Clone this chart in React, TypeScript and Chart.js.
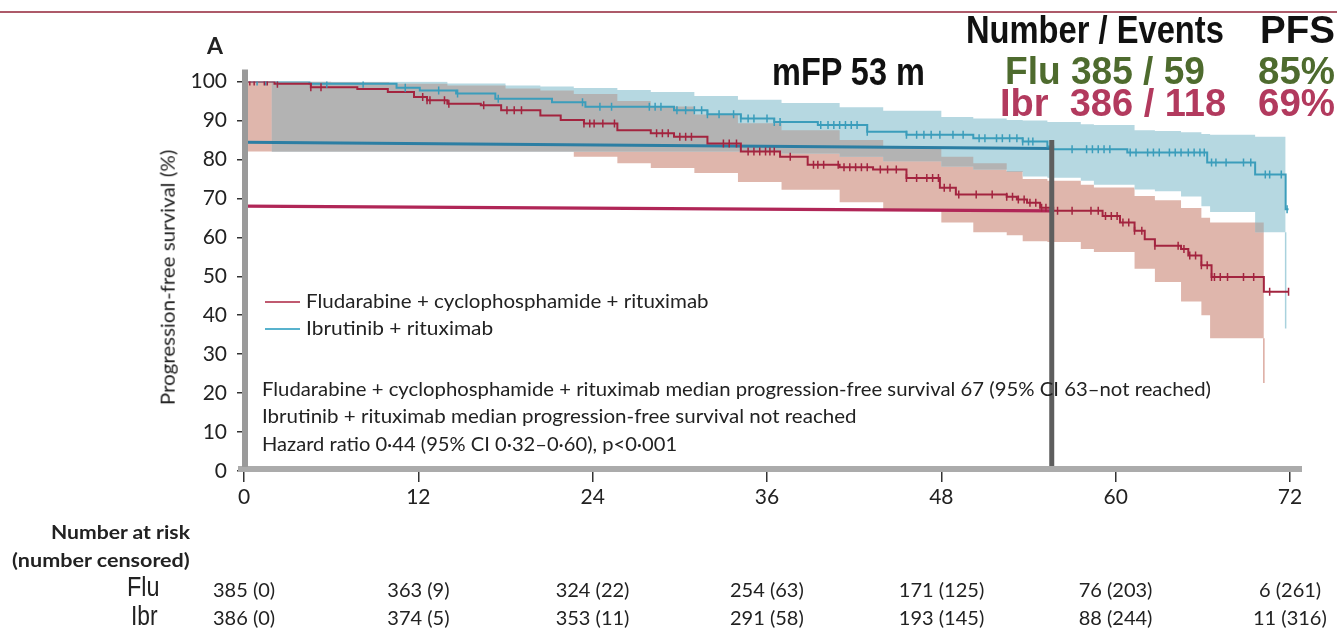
import React, { useEffect, useLayoutEffect, useRef, useState } from 'react';
import { Chart, registerables } from 'chart.js';

Chart.register(...registerables);

// ---------------- data ----------------
const xTickMonths = [0, 12, 24, 36, 48, 60, 72];
const yTickValues = [0, 10, 20, 30, 40, 50, 60, 70, 80, 90, 100];

// Kaplan-Meier step curves (value holds from the month onwards)
const fcrKmMonths = [0, 2.1, 4.6, 7.8, 9.9, 11.7, 12.6, 14.0, 16.3, 17.7, 20.4, 21.8, 23.4, 25.7, 28.0, 29.6, 31.9, 34.2, 36.9, 38.8, 41.0, 43.3, 45.6, 47.9, 49.0, 52.5, 53.2, 53.9, 54.8, 55.7, 59.1, 60.3, 61.3, 62.0, 62.7, 64.5, 65.0, 65.9, 66.6, 70.2, 71.9];
const fcrKmPfs = [100, 99.4, 98.5, 98.1, 97.3, 96.0, 95.2, 94.3, 93.9, 92.6, 91.3, 90.1, 89.2, 87.5, 86.7, 85.8, 84.1, 82.0, 80.7, 78.6, 78.0, 77.4, 75.2, 72.7, 71.0, 70.4, 69.7, 68.9, 67.6, 66.8, 65.5, 63.8, 61.7, 59.5, 57.8, 57.0, 55.3, 52.8, 49.8, 46.0, 46.0];

const ibrKmMonths = [0, 4.5, 10.5, 12.1, 14.6, 17.3, 21.2, 23.5, 29.6, 31.9, 34.2, 36.5, 39.5, 42.9, 45.6, 50.2, 53.6, 55.3, 55.7, 60.8, 66.3, 69.6, 71.7, 71.9];
const ibrKmPfs = [100, 99.4, 98.4, 97.7, 96.9, 95.6, 94.7, 93.5, 92.6, 91.6, 90.5, 89.6, 88.8, 87.1, 86.3, 85.4, 84.6, 83.3, 82.6, 81.8, 79.2, 76.1, 67.2, 67.2];

// censor marks (months)
const fcrCensorMonths = [0.1, 0.4, 0.7, 1.4, 1.6, 2.3, 4.6, 5.3, 12.3, 12.6, 12.8, 13.8, 14.1, 16.5, 18.1, 18.6, 19.1, 23.4, 23.8, 24.1, 24.7, 25.5, 28.4, 28.8, 29.2, 30.0, 30.4, 30.8, 33.0, 33.4, 33.9, 34.7, 35.1, 35.5, 35.9, 36.2, 36.5, 37.6, 39.2, 39.5, 39.9, 40.9, 41.3, 41.7, 42.1, 42.5, 42.9, 43.8, 44.3, 44.9, 45.6, 46.3, 47.0, 47.4, 47.8, 48.2, 48.6, 49.2, 50.4, 51.5, 52.5, 52.9, 53.3, 53.7, 54.1, 54.5, 54.9, 55.2, 56.0, 57.0, 58.3, 58.8, 59.3, 59.7, 60.1, 60.5, 60.9, 61.3, 61.8, 62.7, 64.3, 64.7, 65.1, 65.5, 65.9, 66.3, 66.6, 66.8, 67.2, 67.7, 68.8, 69.5, 70.6, 71.9];
const ibrCensorMonths = [0.9, 1.5, 2.3, 5.7, 8.2, 11.1, 13.4, 14.7, 17.5, 23.3, 24.5, 25.3, 27.9, 28.3, 28.7, 29.8, 30.4, 31.0, 31.5, 31.9, 32.7, 33.7, 34.2, 34.7, 35.1, 36.0, 36.5, 36.9, 39.7, 40.2, 40.6, 41.0, 41.4, 41.8, 42.2, 42.9, 45.6, 46.3, 46.8, 47.3, 47.9, 48.8, 49.5, 50.6, 51.0, 51.8, 52.2, 52.7, 53.2, 53.6, 54.0, 54.3, 57.0, 58.0, 58.4, 58.8, 59.2, 59.6, 61.0, 61.4, 62.2, 62.6, 63.0, 63.7, 64.1, 64.5, 65.0, 65.4, 65.8, 66.1, 66.6, 66.9, 67.6, 68.8, 69.3, 70.3, 70.6, 71.4, 71.8];

// 95% CI bands on a common month grid
const bandMonths = [0, 1.9, 6, 10, 14, 18, 20.4, 22.7, 25.7, 28, 31, 34, 37, 41, 44, 48, 50.2, 52.5, 53.6, 55.3, 57.6, 58.5, 61.3, 62.7, 64.5, 65.9, 66.5, 69.6, 70.2, 71.7];
const fcrCiUpper = [100, 100, 99.8, 99.4, 99.0, 98.2, 97.7, 96.8, 95.0, 93.6, 91.5, 89.3, 87.5, 85.0, 83.0, 80.7, 79.0, 77.0, 75.0, 74.5, 73.5, 72.8, 70.6, 69.5, 67.5, 65.0, 63.8, 63.8, 63.8, null];
const fcrCiLower = [82, 82, 82, 82, 82, 82, 82, 80.7, 79.0, 77.8, 76.5, 74.2, 72.2, 69.0, 66.8, 63.8, 61.3, 60.5, 59.0, 58.8, 57.0, 56.2, 51.9, 48.5, 43.5, 40.0, 34.1, 34.1, 34.1, null];
const ibrCiUpper = [null, 100, 100, 100, 99.5, 99.0, 98.7, 98.3, 97.8, 97.3, 96.3, 95.3, 94.5, 93.4, 92.5, 90.9, 90.5, 90.1, 90.0, 89.6, 89.0, 88.8, 87.5, 87.3, 87.0, 86.5, 86.3, 85.8, 85.8, 85.8];
const ibrCiLower = [null, 82, 82, 82, 82, 82, 82, 82, 82, 82, 82, 82, 81.5, 80.7, 79.5, 78.2, 77.4, 76.8, 75.6, 75.3, 74.5, 73.5, 72.3, 71.8, 70.5, 68.0, 66.5, 61.3, 61.3, 61.3];

// thin CI tails at the end of follow-up
const fcrCiTailMonth = 70.2;
const fcrCiTail = [34.1, 22.6];
const ibrCiTailMonth = 71.7;
const ibrCiTail = [61.3, 36.6];

// reference lines and marker
const refMonths = [0, 55.6];
const fluRefPfs = [84.4, 82.8];
const ibrRefPfs = [68.0, 66.8];
const mfpMonth = 55.6;
const mfpSpan = [0.8, 85];

// numbers at risk
const riskMonths = [0, 12, 24, 36, 48, 60, 72];
const fluAtRisk = ['385 (0)', '363 (9)', '324 (22)', '254 (63)', '171 (125)', '76 (203)', '6 (261)'];
const ibrAtRisk = ['386 (0)', '374 (5)', '353 (11)', '291 (58)', '193 (145)', '88 (244)', '11 (316)'];

// ---------------- styles ----------------
const RED = '#a3243f';
const BLUE = '#3b9dbb';
const SALMON = '#dfb6ac';
const LIGHTBLUE = '#b6d8e1';
const OVERLAP = '#b3b3b3';
const LATO = 'Lato, "Open Sans", sans-serif';
const NARROW = '"Liberation Sans Narrow", "Liberation Sans", Arial, sans-serif';

function stepAt(ms: number[], vs: number[], m: number) {
  let v = vs[0];
  for (let i = 0; i < ms.length; i++) {
    if (ms[i] <= m) v = vs[i];
    else break;
  }
  return v;
}
const pts = (ms: number[], vs: (number | null)[]) =>
  ms.map((x, i) => ({ x, y: vs[i] })).filter((p) => p.y !== null) as { x: number; y: number }[];

const overlapBand = bandMonths
  .map((m, i) => {
    const a = fcrCiUpper[i], b = fcrCiLower[i], c = ibrCiUpper[i], d = ibrCiLower[i];
    if (a == null || b == null || c == null || d == null) return null;
    const lo = Math.max(b, d);
    const hi = Math.max(lo, Math.min(a, c));
    return { x: m, lo, hi };
  })
  .filter(Boolean) as { x: number; lo: number; hi: number }[];

type LabelProps = {
  text: string; x: number; base: number; size: number; family: string;
  weight?: number; color?: string; width?: number; anchor?: 'left' | 'right' | 'center';
};

function Label({ text, x, base, size, family, weight = 400, color = '#222', width, anchor = 'left' }: LabelProps) {
  const ref = useRef<HTMLSpanElement>(null);
  useLayoutEffect(() => {
    const el = ref.current;
    if (!el) return;
    const apply = () => {
      const w = el.offsetWidth;
      const k = width && w ? width / w : 1;
      const fw = w * k;
      const left = anchor === 'left' ? x : anchor === 'right' ? x - fw : x - fw / 2;
      el.style.left = left + 'px';
      el.style.transform = `scaleX(${k})`;
    };
    apply();
    (document as any).fonts?.ready?.then(apply);
  }, [text, x, base, size, width, anchor]);
  const off = family.startsWith('Lato') ? 0.887 : 0.847;
  return (
    <span
      ref={ref}
      style={{
        position: 'absolute', left: x, top: base - off * size, whiteSpace: 'pre',
        font: `${weight} ${size}px ${family}`, lineHeight: 1, color, transformOrigin: '0 0',
      }}
    >
      {text}
    </span>
  );
}

function VLabel({ text, cx, cy, size, length }: { text: string; cx: number; cy: number; size: number; length: number }) {
  const ref = useRef<HTMLSpanElement>(null);
  useLayoutEffect(() => {
    const el = ref.current;
    if (!el) return;
    const apply = () => {
      const w = el.offsetWidth, h = el.offsetHeight;
      el.style.left = cx - w / 2 + 'px';
      el.style.top = cy - h / 2 + 'px';
      el.style.transform = `rotate(-90deg) scaleX(${length / w})`;
    };
    apply();
    (document as any).fonts?.ready?.then(apply);
  }, [text, cx, cy, size, length]);
  return (
    <span ref={ref} style={{ position: 'absolute', whiteSpace: 'pre', font: `400 ${size}px ${LATO}`, lineHeight: 1, color: '#222', transformOrigin: '50% 50%' }}>
      {text}
    </span>
  );
}

const axisBars = {
  id: 'axisBars',
  afterDatasetsDraw(chart: any) {
    const { ctx, chartArea: a } = chart;
    ctx.save();
    ctx.fillStyle = '#ababab';
    ctx.fillRect(a.left - 6, a.bottom - 5, a.right - a.left + 18, 6);
    ctx.fillStyle = '#9a9a9a';
    ctx.fillRect(a.left - 2, a.top - 12, 6, a.bottom - a.top + 8);
    ctx.restore();
  },
};

export default function App() {
  const canvasRef = useRef<HTMLCanvasElement>(null);
  const [riskX, setRiskX] = useState<number[]>([]);

  useEffect(() => {
    document.body.style.margin = '0';
    const canvas = canvasRef.current;
    if (!canvas) return;
    // 'before' in Chart.js = hold previous value horizontally, then step (Kaplan-Meier style)
    const band = {
      pointRadius: 0, pointHoverRadius: 0, borderColor: 'rgba(0,0,0,0)', borderWidth: 0,
      fill: false, stepped: 'before' as const,
    };
    const line = { pointRadius: 0, pointHoverRadius: 0, fill: false };
    const censor = (ms: number[], km: number[], kv: number[], color: string, order: number) => ({
      data: ms.map((m) => ({ x: m, y: stepAt(km, kv, m) })),
      showLine: false, pointStyle: 'line', pointRotation: 90, pointRadius: 4, pointHoverRadius: 4,
      pointBorderColor: color, pointBorderWidth: 1.5, pointBackgroundColor: color, order,
    });

    const chart = new Chart(canvas, {
      type: 'line',
      data: {
        datasets: [
          { ...band, data: pts(bandMonths, fcrCiLower), order: 60 },
          { ...band, data: pts(bandMonths, fcrCiUpper), order: 59, fill: '-1', backgroundColor: SALMON },
          { ...band, data: pts(bandMonths, ibrCiLower), order: 50 },
          { ...band, data: pts(bandMonths, ibrCiUpper), order: 49, fill: '-1', backgroundColor: LIGHTBLUE },
          { ...band, data: overlapBand.map((o) => ({ x: o.x, y: o.lo })), order: 40 },
          { ...band, data: overlapBand.map((o) => ({ x: o.x, y: o.hi })), order: 39, fill: '-1', backgroundColor: OVERLAP },
          { ...line, data: fcrCiTail.map((y) => ({ x: fcrCiTailMonth, y })), borderColor: '#dcaaa0', borderWidth: 1.5, order: 30 },
          { ...line, data: ibrCiTail.map((y) => ({ x: ibrCiTailMonth, y })), borderColor: '#a9d2dd', borderWidth: 1.5, order: 30 },
          { ...line, data: pts(refMonths, fluRefPfs), borderColor: '#2c7ea3', borderWidth: 3.2, order: 20 },
          { ...line, data: pts(refMonths, ibrRefPfs), borderColor: '#b02657', borderWidth: 3.2, order: 20 },
          { ...line, data: pts(fcrKmMonths, fcrKmPfs), borderColor: RED, borderWidth: 2, stepped: 'before', order: 10 },
          { ...line, data: pts(ibrKmMonths, ibrKmPfs), borderColor: BLUE, borderWidth: 2, stepped: 'before', order: 11 },
          censor(fcrCensorMonths, fcrKmMonths, fcrKmPfs, RED, 6),
          censor(ibrCensorMonths, ibrKmMonths, ibrKmPfs, BLUE, 7),
          { ...line, data: mfpSpan.map((y) => ({ x: mfpMonth, y })), borderColor: '#5e5e5e', borderWidth: 5, order: 1 },
        ] as any,
      },
      options: {
        responsive: false,
        animation: false,
        events: [],
        layout: { padding: { top: 81.5, right: 47, bottom: 0, left: 0 } },
        plugins: { legend: { display: false }, tooltip: { enabled: false }, title: { display: false } },
        scales: {
          x: {
            type: 'linear', min: 0, max: 72,
            afterFit: (s: any) => { s.height = 171; },
            afterBuildTicks: (s: any) => { s.ticks = xTickMonths.map((v) => ({ value: v })); },
            ticks: { font: { family: LATO, size: 21 }, color: '#222', padding: 3, maxRotation: 0, autoSkip: false },
            grid: { drawOnChartArea: false, drawTicks: true, tickLength: 11, color: '#333', lineWidth: 1.5 },
            border: { display: false },
          },
          y: {
            type: 'linear', min: 0, max: 100,
            afterFit: (s: any) => { s.width = 244; },
            afterBuildTicks: (s: any) => { s.ticks = yTickValues.map((v) => ({ value: v })); },
            ticks: { font: { family: LATO, size: 21 }, color: '#222', padding: 10 },
            grid: { drawOnChartArea: false, drawTicks: true, tickLength: 7, color: '#333', lineWidth: 1.5 },
            border: { display: false },
          },
        },
      },
      plugins: [axisBars],
    });
    setRiskX(riskMonths.map((m) => chart.scales.x.getPixelForValue(m)));
    return () => chart.destroy();
  }, []);

  return (
    <div style={{ position: 'relative', width: 1337, height: 642, overflow: 'hidden', background: '#fff' }}>
      <canvas ref={canvasRef} width={1337} height={642} style={{ position: 'absolute', left: 0, top: 0, width: 1337, height: 642 }} />
      <div style={{ position: 'absolute', left: 0, top: 11, width: 1337, height: 2, background: '#ad5a69' }} />

      <Label text="A" x={207} base={54} size={23} family={LATO} weight={700} width={16} />

      <Label text="mFP 53 m" x={772} base={85} size={38} family={NARROW} weight={700} width={153} color="#111" />
      <Label text="Number / Events" x={966} base={43} size={38} family={NARROW} weight={700} width={258} color="#111" />
      <Label text="PFS" x={1260} base={43} size={38} family={NARROW} weight={700} width={75} color="#111" />
      <Label text="Flu 385 / 59" x={1005} base={84} size={38} family={NARROW} weight={700} width={200} color="#4e6b2e" />
      <Label text="85%" x={1258} base={84} size={38} family={NARROW} weight={700} width={77} color="#4e6b2e" />
      <Label text="Ibr  386 / 118" x={1000} base={116} size={38} family={NARROW} weight={700} width={226} color="#b23a5e" />
      <Label text="69%" x={1258} base={116} size={38} family={NARROW} weight={700} width={77} color="#b23a5e" />

      <div style={{ position: 'absolute', left: 265, top: 301, width: 35, height: 2, background: '#c05a70' }} />
      <Label text="Fludarabine + cyclophosphamide + rituximab" x={306} base={308} size={19} family={LATO} width={403} />
      <div style={{ position: 'absolute', left: 265, top: 328, width: 35, height: 2, background: '#58b2cd' }} />
      <Label text="Ibrutinib + rituximab" x={306} base={335} size={19} family={LATO} width={187} />

      <Label text="Fludarabine + cyclophosphamide + rituximab median progression-free survival 67 (95% CI 63–not reached)" x={262} base={396} size={19} family={LATO} width={949} />
      <Label text="Ibrutinib + rituximab median progression-free survival not reached" x={262} base={423} size={19} family={LATO} width={594} />
      <Label text="Hazard ratio 0·44 (95% CI 0·32–0·60), p<0·001" x={262} base={451} size={19} family={LATO} width={415} />

      <VLabel text="Progression-free survival (%)" cx={167} cy={277} size={19} length={255} />

      <Label text="Number at risk" x={190} base={539} size={19} family={LATO} weight={700} anchor="right" width={139} />
      <Label text="(number censored)" x={190} base={567} size={19} family={LATO} weight={700} anchor="right" width={178} />
      <Label text="Flu" x={160} base={597} size={27} family={NARROW} anchor="right" width={33} />
      <Label text="Ibr" x={158} base={626} size={27} family={NARROW} anchor="right" width={27} />

      {riskX.map((x, i) => (
        <Label key={'f' + i} text={fluAtRisk[i]} x={x} base={597} size={20} family={LATO} anchor="center" />
      ))}
      {riskX.map((x, i) => (
        <Label key={'i' + i} text={ibrAtRisk[i]} x={x} base={625} size={20} family={LATO} anchor="center" />
      ))}
    </div>
  );
}
